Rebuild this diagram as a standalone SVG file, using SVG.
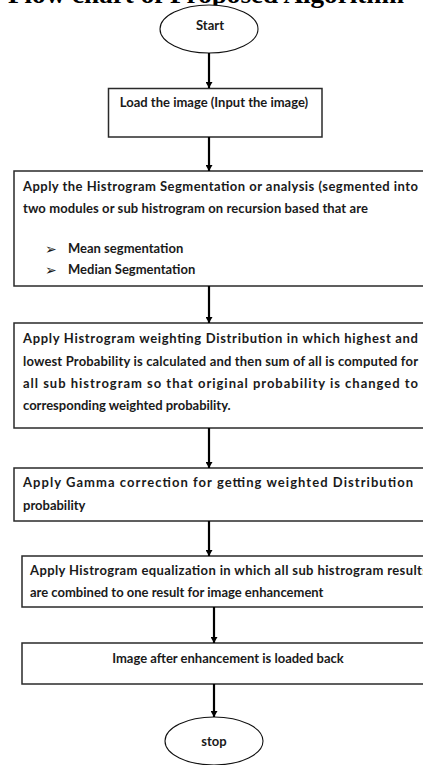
<svg xmlns="http://www.w3.org/2000/svg" width="423" height="765" viewBox="0 0 423 765">
<defs>
<marker id="ah" markerWidth="6" markerHeight="7" refX="6" refY="3.5" orient="auto" markerUnits="userSpaceOnUse">
<path d="M0,0 L6,3.5 L0,7 Z" fill="#000"/>
</marker>
<style>
.box{fill:#fff;stroke:#2a2a2a;stroke-width:1.5}
.term{fill:#fff;stroke:#111;stroke-width:1.1}
.t{font-family:Lato,"Liberation Sans",sans-serif;font-weight:bold;font-size:13px;fill:#1a1a1a}
.c{text-anchor:middle}
.b{font-family:"DejaVu Sans",sans-serif;font-weight:bold;font-size:14px;fill:#1a1a1a}
.title{font-family:"Liberation Serif",serif;font-weight:bold;font-size:25px;fill:#000}
.con line{stroke:#000;stroke-width:2.2}
</style>
</defs>
<rect width="423" height="765" fill="#fff"/>
<text class="title" x="8" y="3" textLength="396" lengthAdjust="spacingAndGlyphs">Flow chart of Proposed Algorithm</text>

<g id="start">
<ellipse class="term" cx="209" cy="29" rx="49" ry="24"/>
<text class="t c" x="210" y="30">Start</text>
</g>

<g id="load">
<rect class="box" x="108.5" y="88.5" width="213.5" height="48.5"/>
<text class="t c" x="214" y="107">Load the image (Input the image)</text>
</g>

<g id="segment">
<rect class="box" x="14" y="171" width="420" height="115"/>
<text class="t" x="23" y="191" textLength="395" lengthAdjust="spacing">Apply the Histrogram Segmentation or analysis (segmented into</text>
<text class="t" x="23" y="213" textLength="345" lengthAdjust="spacing">two modules or sub histrogram on recursion based that are</text>
<text class="b" x="45" y="254">➢</text>
<text class="t" x="68" y="253">Mean segmentation</text>
<text class="b" x="45" y="275">➢</text>
<text class="t" x="68" y="274">Median Segmentation</text>
</g>

<g id="weighting">
<rect class="box" x="14" y="323" width="420" height="105"/>
<text class="t" x="23" y="343" textLength="395" lengthAdjust="spacing">Apply Histrogram weighting Distribution in which highest and</text>
<text class="t" x="23" y="366" textLength="395" lengthAdjust="spacing">lowest Probability is calculated and then sum of all is computed for</text>
<text class="t" x="23" y="388" textLength="395" lengthAdjust="spacing">all sub histrogram so that original probability is changed to</text>
<text class="t" x="23" y="410">corresponding weighted probability.</text>
</g>

<g id="gamma">
<rect class="box" x="14" y="468" width="420" height="53"/>
<text class="t" x="23" y="487" textLength="390" lengthAdjust="spacing">Apply Gamma correction for getting weighted Distribution</text>
<text class="t" x="23" y="510">probability</text>
</g>

<g id="equalize">
<rect class="box" x="22" y="556" width="420" height="51"/>
<text class="t" x="30" y="575" textLength="398" lengthAdjust="spacing">Apply Histrogram equalization in which all sub histrogram results</text>
<text class="t" x="30" y="597">are combined to one result for image enhancement</text>
</g>

<g id="loadback">
<rect class="box" x="22" y="643" width="420" height="41"/>
<text class="t c" x="228" y="663">Image after enhancement is loaded back</text>
</g>

<g id="stop">
<ellipse class="term" cx="214" cy="741" rx="49" ry="24"/>
<text class="t c" x="214" y="746">stop</text>
</g>

<g class="con" id="connectors">
<line x1="209" y1="53" x2="209" y2="88" marker-end="url(#ah)"/>
<line x1="209" y1="137" x2="209" y2="171" marker-end="url(#ah)"/>
<line x1="209" y1="286" x2="209" y2="323" marker-end="url(#ah)"/>
<line x1="209" y1="428" x2="209" y2="468" marker-end="url(#ah)"/>
<line x1="209" y1="521" x2="209" y2="556" marker-end="url(#ah)"/>
<line x1="214" y1="607" x2="214" y2="643" marker-end="url(#ah)"/>
<line x1="214" y1="684" x2="214" y2="717" marker-end="url(#ah)"/>
</g>
</svg>
